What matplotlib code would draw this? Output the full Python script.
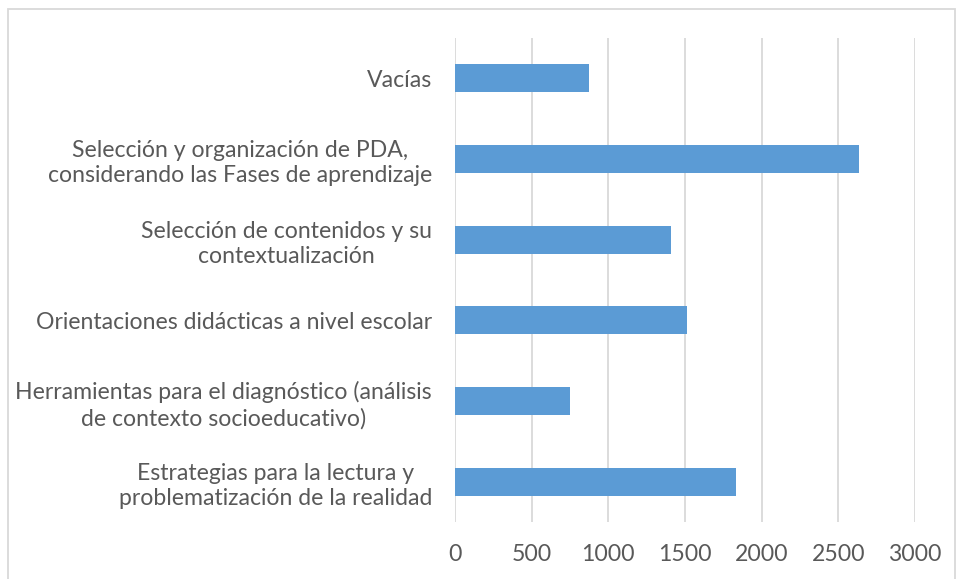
import matplotlib.pyplot as plt
from matplotlib.patches import Rectangle

categories = [
    "Estrategias para la lectura y\nproblematización de la realidad",
    "Herramientas para el diagnóstico (análisis\nde contexto socioeducativo)",
    "Orientaciones didácticas a nivel escolar",
    "Selección de contenidos y su\ncontextualización",
    "Selección y organización de PDA,\nconsiderando las Fases de aprendizaje",
    "Vacías",
]
values = [1835, 748, 1513, 1411, 2633, 872]
xticks = [0, 500, 1000, 1500, 2000, 2500, 3000]

plt.rcParams['font.family'] = ['Lato', 'DejaVu Sans']

fig = plt.figure(figsize=(9.56, 5.79), dpi=100)
ax = fig.add_axes([455 / 956, 1 - 522 / 579, 460 / 956, 484 / 579])

ax.barh(range(len(categories)), values, height=0.35, color='#5B9BD5', zorder=3)
ax.set_xlim(0, 3000)
ax.set_ylim(-0.5, len(categories) - 0.5)
ax.set_xticks(xticks)
ax.set_yticks(range(len(categories)))
ax.set_yticklabels(categories, multialignment='center', linespacing=1.25)
ax.grid(axis='x', color='#D9D9D9', linewidth=1.3, zorder=0)
for s in ax.spines.values():
    s.set_visible(False)
ax.tick_params(axis='both', length=0, labelsize=16.6, colors='#595959')
ax.tick_params(axis='y', pad=16.5)
ax.tick_params(axis='x', pad=16)

fig.patches.append(Rectangle((8 / 956, -0.01), 947 / 956, 1 - 9 / 579 + 0.01,
                             transform=fig.transFigure, fill=False,
                             edgecolor='#D9D9D9', linewidth=1.3))

fig.savefig('out.png', dpi=100)
